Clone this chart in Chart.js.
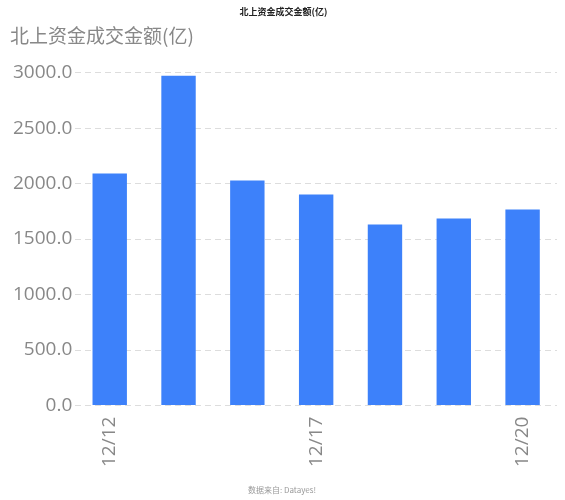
<!DOCTYPE html>
<html><head><meta charset="utf-8">
<script src="https://cdn.jsdelivr.net/npm/chart.js@4/dist/chart.umd.min.js"></script>
<style>body{margin:0;background:#fff}#w{width:565px;height:500px;position:relative}</style>
</head><body><div id="w"><canvas id="c"></canvas></div>
<script>
const categories = ["12/12","12/13","12/14","12/17","12/18","12/19","12/20"];
const values = [2090, 2972, 2027, 1901, 1631, 1685, 1766];
const shownLabels = ["12/12","12/17","12/20"];
new Chart(document.getElementById('c'), {
  type: 'bar',
  data: { labels: categories, datasets: [{ data: values, backgroundColor: '#3d81fa', barPercentage: 0.5, categoryPercentage: 1 }] },
  options: {
    responsive: true, maintainAspectRatio: false, animation: false,
    layout: { padding: { left: 10, right: 8, top: 0, bottom: 30 } },
    plugins: {
      legend: { display: false }, tooltip: { enabled: false },
      title: { display: true, text: '北上资金成交金额(亿)', color: '#222', font: { size: 9, weight: 'bold', family: 'Noto Sans CJK SC' }, padding: { top: 6, bottom: 8 } },
      subtitle: { display: true, text: '北上资金成交金额(亿)', align: 'start', color: '#888', font: { size: 19, family: 'Noto Sans CJK SC' }, padding: { bottom: 25 } }
    },
    scales: {
      y: { min: 0, max: 3000, ticks: { stepSize: 500, color: '#888', font: { size: 19, family: 'Open Sans' }, callback: v => v.toFixed(1) },
           grid: { color: '#dddddd', drawTicks: false }, border: { display: false, dash: [6, 4] } },
      x: { grid: { display: false }, border: { display: false },
           ticks: { autoSkip: false, maxRotation: 90, minRotation: 90, color: '#888', font: { size: 19, family: 'Open Sans' },
                    callback: function(v, i) { const l = categories[i]; return shownLabels.includes(l) ? l : ''; } } }
    }
  },
  plugins: [{ id: 'foot', afterDraw(ch) { const c = ch.ctx; c.save(); c.fillStyle = '#999'; c.font = '8px "Noto Sans CJK SC"'; c.textAlign = 'center'; c.fillText('数据来自: Datayes!', 282, 493); c.restore(); } }]
});
</script></body></html>
